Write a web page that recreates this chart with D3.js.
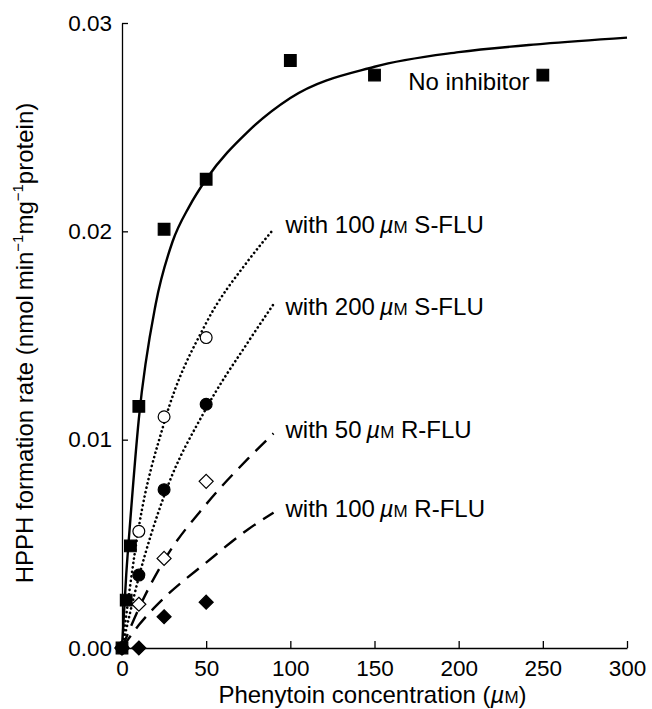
<html>
<script src="https://d3js.org/d3.v7.min.js"></script>
<style>
  body { margin: 0; background: #fff; }
  text { font-family: "Liberation Sans", Arial, sans-serif; fill: #000; }
</style>
<body>
<svg width="652" height="709"></svg>
<script>
// measured points
const concNone = [0, 2.5, 5, 10, 25, 50, 100, 150, 250];
const rateNone = [0, 0.0023, 0.0049, 0.0116, 0.0201, 0.0225, 0.0282, 0.0275, 0.0275];
const concInh = [0, 10, 25, 50];
const rateS100 = [0, 0.0056, 0.0111, 0.0149];
const rateS200 = [0, 0.0035, 0.0076, 0.0117];
const rateR50 = [0, 0.0021, 0.0043, 0.0080];
const rateR100 = [0, 0, 0.0015, 0.0022];

// fitted curves
const fitXNone = [0, 2.5, 5, 10, 20, 30, 40, 50, 75, 100, 150, 200, 250, 300];
const fitNone = [0, 0.0035, 0.0062, 0.0110, 0.0165, 0.0195, 0.0212, 0.0225, 0.0248, 0.0264, 0.0279, 0.0286, 0.0290, 0.0293];
const fitXInh = [0, 10, 25, 50, 75, 90];
const fitS100 = [0, 0.0058, 0.0108, 0.0156, 0.0186, 0.0201];
const fitS200 = [0, 0.0034, 0.0073, 0.0115, 0.0147, 0.0165];
const fitR50 = [0, 0.0019, 0.0042, 0.0069, 0.0091, 0.0103];
const fitR100 = [0, 0.0011, 0.0024, 0.0041, 0.0057, 0.0065];

const xTicks = [0, 50, 100, 150, 200, 250, 300];
const yTicks = [0, 0.01, 0.02, 0.03];

const svg = d3.select('svg');
const x = d3.scaleLinear().domain([0, 300]).range([122, 627]);
const y = d3.scaleLinear().domain([0, 0.03]).range([648, 23]);

const zip = (xs, ys) => xs.map((v, i) => [v, ys[i]]);
const line = d3.line().x(d => x(d[0])).y(d => y(d[1])).curve(d3.curveMonotoneX);

// curves
const curves = [
  {pts: zip(fitXNone, fitNone), dash: null},
  {pts: zip(fitXInh, fitS100), dash: '0.1,4.4'},
  {pts: zip(fitXInh, fitS200), dash: '0.1,4.4'},
  {pts: zip(fitXInh, fitR50), dash: '15,9'},
  {pts: zip(fitXInh, fitR100), dash: '15,9'}
];
svg.append('g').selectAll('path').data(curves).enter().append('path')
  .attr('d', d => line(d.pts))
  .attr('fill', 'none')
  .attr('stroke', '#000')
  .attr('stroke-width', d => d.dash && d.dash.startsWith('0.1') ? 2.6 : 2.4)
  .attr('stroke-linecap', d => d.dash && d.dash.startsWith('0.1') ? 'round' : 'butt')
  .attr('stroke-dasharray', d => d.dash);

// axes
const gy = svg.append('g').attr('transform', 'translate(122,0)')
  .call(d3.axisLeft(y).tickValues(yTicks).tickSizeInner(-6).tickSizeOuter(0).tickPadding(10)
    .tickFormat(d3.format('.2f')));
const gx = svg.append('g').attr('transform', 'translate(0,648)')
  .call(d3.axisBottom(x).tickValues(xTicks).tickSizeInner(-7).tickSizeOuter(0).tickPadding(12));
[gx, gy].forEach(g => {
  g.select('.domain').attr('stroke-width', 1.3);
  g.selectAll('.tick line').attr('stroke-width', 1.3);
  g.selectAll('text').attr('font-size', 22.5).attr('font-family', '"Liberation Sans", Arial, sans-serif');
});

// markers
const sq = d3.symbol().type(d3.symbolSquare).size(135);
const ci = d3.symbol().type(d3.symbolCircle).size(110);
const di = d3.symbol().type(d3.symbolDiamond2).size(125);
const mk = svg.append('g');
function drawPts(xs, ys, sym, filled) {
  mk.append('g').selectAll('path').data(zip(xs, ys)).enter().append('path')
    .attr('transform', d => `translate(${x(d[0])},${y(d[1])})`)
    .attr('d', sym)
    .attr('fill', filled ? '#000' : '#fff')
    .attr('stroke', '#000')
    .attr('stroke-width', 1.2);
}
drawPts(concInh, rateR100, di, true);
drawPts(concInh, rateR50, di, false);
drawPts(concInh, rateS200, ci, true);
drawPts(concInh, rateS100, ci, false);
drawPts(concNone, rateNone, sq, true);

// labels
const labels = [
  {x: 90, y: 0.0203, conc: '100', drug: 'S-FLU'},
  {x: 90, y: 0.0164, conc: '200', drug: 'S-FLU'},
  {x: 90, y: 0.0105, conc: '50', drug: 'R-FLU'},
  {x: 90, y: 0.0067, conc: '100', drug: 'R-FLU'}
];
labels.forEach(l => {
  const t = svg.append('text')
    .attr('x', x(l.x) + 12).attr('y', y(l.y)).attr('dy', '0.35em')
    .attr('font-size', 24);
  t.append('tspan').text('with ' + l.conc + '\u2009');
  t.append('tspan').attr('font-style', 'italic').text('\u00b5');
  t.append('tspan').attr('font-size', 17).text('M');
  t.append('tspan').text(' ' + l.drug);
});
svg.append('text').attr('x', x(170)).attr('y', y(0.0272)).attr('dy', '0.35em')
  .attr('font-size', 24).text('No inhibitor');

// axis titles
const xt = svg.append('text').attr('x', (x(0) + x(300)) / 2 - 2).attr('y', 703)
  .attr('text-anchor', 'middle').attr('font-size', 24);
xt.append('tspan').text('Phenytoin concentration (');
xt.append('tspan').attr('font-style', 'italic').text('\u00b5');
xt.append('tspan').attr('font-size', 17).text('M');
xt.append('tspan').text(')');

const yt = svg.append('text').attr('transform', 'translate(33,343) rotate(-90)')
  .attr('text-anchor', 'middle').attr('font-size', 24);
yt.append('tspan').text('HPPH formation rate (nmol\u2009min');
yt.append('tspan').attr('font-size', 15).attr('dy', -10).text('\u22121');
yt.append('tspan').attr('dy', 10).text('mg');
yt.append('tspan').attr('font-size', 15).attr('dy', -10).text('\u22121');
yt.append('tspan').attr('dy', 10).text('protein)');
</script>
</body>
</html>
